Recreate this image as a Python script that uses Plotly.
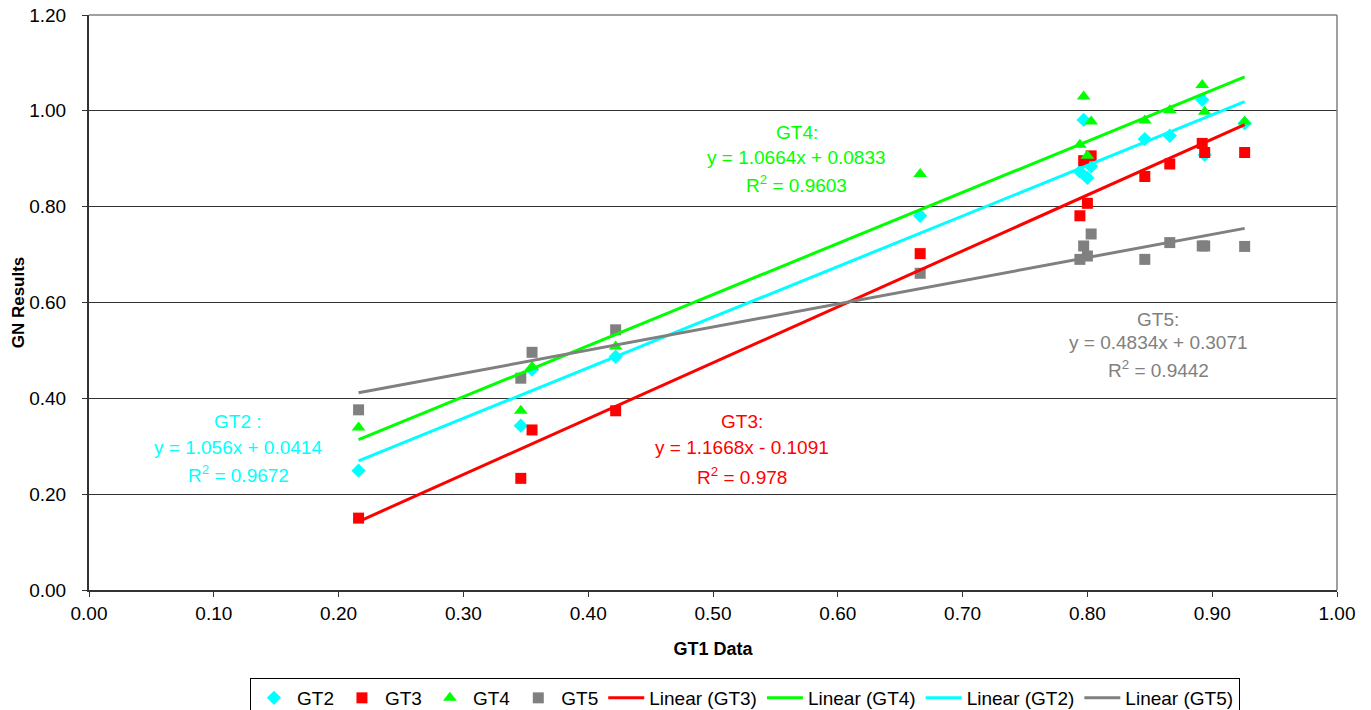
import plotly.graph_objects as go

# ---- data ----
gt1 = [0.216, 0.346, 0.355, 0.422, 0.666, 0.794, 0.797, 0.800, 0.803, 0.846, 0.866, 0.892, 0.894, 0.926]
gt2 = [0.249, 0.343, 0.460, 0.487, 0.781, 0.873, 0.981, 0.860, 0.884, 0.941, 0.948, 1.023, 0.908, 0.974]
gt3 = [0.150, 0.233, 0.334, 0.374, 0.702, 0.781, 0.896, 0.807, 0.906, 0.863, 0.889, 0.932, 0.913, 0.913]
gt4 = [0.339, 0.374, 0.466, 0.508, 0.868, 0.929, 1.030, 0.906, 0.978, 0.980, 1.001, 1.054, 0.998, 0.978]
gt5 = [0.376, 0.442, 0.496, 0.543, 0.661, 0.690, 0.718, 0.697, 0.743, 0.690, 0.725, 0.718, 0.718, 0.717]

series_names = ["GT2", "GT3", "GT4", "GT5"]
slopes = {"GT2": 1.056, "GT3": 1.1668, "GT4": 1.0664, "GT5": 0.4834}
intercepts = {"GT2": 0.0414, "GT3": -0.1091, "GT4": 0.0833, "GT5": 0.3071}
eq_text = {
    "GT2": ["GT2 :", "y = 1.056x + 0.0414", "R<sup>2</sup> = 0.9672"],
    "GT3": ["GT3:", "y = 1.1668x - 0.1091", "R<sup>2</sup> = 0.978"],
    "GT4": ["GT4:", "y = 1.0664x + 0.0833", "R<sup>2</sup> = 0.9603"],
    "GT5": ["GT5:", "y = 0.4834x + 0.3071", "R<sup>2</sup> = 0.9442"],
}
x_ticks = [0.0, 0.1, 0.2, 0.3, 0.4, 0.5, 0.6, 0.7, 0.8, 0.9, 1.0]
y_ticks = [0.0, 0.2, 0.4, 0.6, 0.8, 1.0, 1.2]

colors = {"GT2": "#00FFFF", "GT3": "#FF0000", "GT4": "#00FF00", "GT5": "#808080"}
symbols = {"GT2": "diamond", "GT3": "square", "GT4": "triangle-up", "GT5": "square"}
msize = {"GT2": 11, "GT3": 11, "GT4": 12, "GT5": 11}
values = {"GT2": gt2, "GT3": gt3, "GT4": gt4, "GT5": gt5}
trend_order = ["GT3", "GT4", "GT2", "GT5"]

# annotation anchor positions (data coords)
label_pos = {
    "GT2": (0.1194, [0.3507, 0.2965, 0.2422]),
    "GT3": (0.5232, [0.3507, 0.2965, 0.238]),
    "GT4": (0.5673, [0.954, 0.902, 0.8476]),
    "GT5": (0.8566, [0.5637, 0.5157, 0.4614]),
}

FONT = "Liberation Sans, Arial, sans-serif"
FS = 19

fig = go.Figure()
for name in series_names:
    fig.add_trace(go.Scatter(
        x=gt1, y=values[name], mode="markers", name=name,
        marker=dict(symbol=symbols[name], color=colors[name], size=msize[name], line=dict(width=0)),
    ))

xmin, xmax = min(gt1), max(gt1)
for name in trend_order:
    m, b = slopes[name], intercepts[name]
    fig.add_trace(go.Scatter(
        x=[xmin, xmax], y=[m * xmin + b, m * xmax + b], mode="lines",
        name=f"Linear ({name})", line=dict(color=colors[name], width=3),
    ))

for name in series_names:
    xa, ys = label_pos[name]
    for txt, ya in zip(eq_text[name], ys):
        fig.add_annotation(x=xa, y=ya, text=txt, showarrow=False,
                           xanchor="center", yanchor="middle",
                           font=dict(family=FONT, size=FS, color=colors[name]))

fig.update_layout(
    width=1371, height=710,
    margin=dict(l=89, r=34, t=15, b=120, autoexpand=False),
    paper_bgcolor="white", plot_bgcolor="white",
    font=dict(family=FONT, size=FS, color="black"),
    showlegend=True,
    legend=dict(orientation="h", xref="container", x=250 / 1371, xanchor="left",
                yref="container", y=(710 - 678) / 710, yanchor="top",
                bordercolor="black", borderwidth=1,
                font=dict(family=FONT, size=FS, color="black"),
                itemwidth=36, tracegroupgap=0),
    shapes=[
        dict(type="line", xref="paper", yref="paper", x0=0, x1=1, y0=1, y1=1,
             line=dict(color="#808080", width=1.5)),
        dict(type="line", xref="paper", yref="paper", x0=1, x1=1, y0=0, y1=1,
             line=dict(color="#808080", width=1.5)),
    ],
)
fig.update_xaxes(range=[0, 1.0], tickvals=x_ticks, tickformat=".2f",
                 showgrid=False, zeroline=False, automargin=False,
                 showline=True, linecolor="#333333", linewidth=2,
                 ticks="outside", ticklen=5, tickcolor="#333333",
                 tickfont=dict(family=FONT, size=FS),
                 title=dict(text="<b>GT1 Data</b>", font=dict(family=FONT, size=18), standoff=20))
fig.update_yaxes(range=[0, 1.2], tickvals=y_ticks, tickformat=".2f",
                 showgrid=True, gridcolor="#333333", gridwidth=1, zeroline=False, automargin=False,
                 showline=True, linecolor="#333333", linewidth=2,
                 ticks="outside", ticklen=5, tickcolor="#333333", ticklabelstandoff=12,
                 tickfont=dict(family=FONT, size=FS),
                 title=dict(text="<b>GN Results</b>", font=dict(family=FONT, size=17), standoff=0))

fig.write_html("out.html")
